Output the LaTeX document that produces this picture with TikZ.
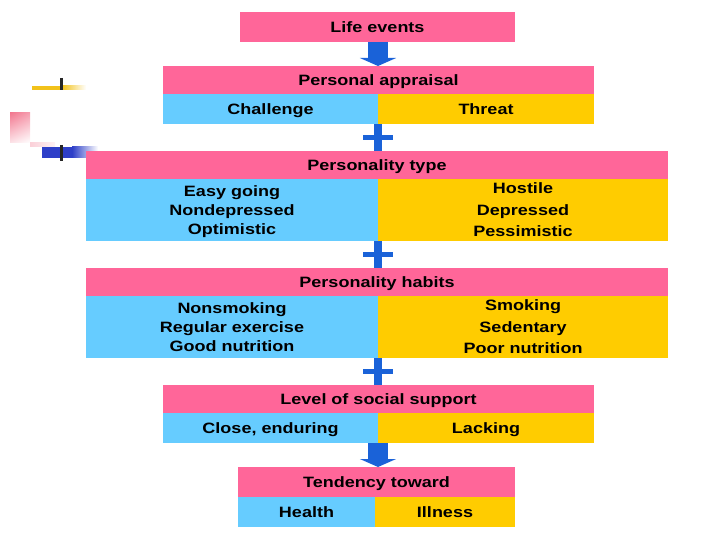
\documentclass[tikz,border=0pt]{standalone}
\usepackage{fontspec}
\setmainfont[FakeStretch=1.2]{Liberation Sans}
\usetikzlibrary{arrows.meta,shadings}
\definecolor{pinkc}{HTML}{FF6699}
\definecolor{bluec}{HTML}{66CCFF}
\definecolor{yellowc}{HTML}{FFCC00}
\definecolor{arrowc}{HTML}{1A62D8}
\definecolor{decoyel}{HTML}{F2C21A}
\definecolor{decoblue}{HTML}{2E3FC8}
\definecolor{decopink}{HTML}{F27890}
\begin{document}
\begin{tikzpicture}[x=1pt,y=-1pt,
  box/.style={draw=none,inner sep=0pt,outer sep=0pt,anchor=north west,align=center,text depth=0pt,font=\fontsize{15}{19}\selectfont\bfseries},
  pbox/.style={box,fill=pinkc},
  bbox/.style={box,fill=bluec},
  ybox/.style={box,fill=yellowc},
  wide/.style={font=\fontsize{15}{21.5}\selectfont\bfseries},
  bigarrow/.style={draw=arrowc,line width=20pt,-{Triangle[width=36pt,length=8pt]}},
  plusv/.style={draw=arrowc,line width=8pt},
  plush/.style={draw=arrowc,line width=5pt},
  tick/.style={draw=black!85,line width=3pt}]
\useasboundingbox (0,0) rectangle (720,540);
% decoration
\shade[left color=decoyel,right color=white] (62,86) rectangle (86,90);
\fill[decoyel] (32,86) rectangle (62,90);
\shade[upper left=decopink,lower left=decopink!20,upper right=decopink!70,lower right=white] (10,113) rectangle (30,143);
\shade[left color=decopink!35,right color=decopink!10] (30,143) rectangle (55,147);
\fill[decoblue] (42,147) rectangle (72,158);
\shade[left color=decoblue,right color=white] (72,147) rectangle (98,158);
\draw[tick] (61.5,78) -- (61.5,90);
\draw[tick] (61.5,145) -- (61.5,161);
% boxes
\node[pbox,minimum width=275pt,minimum height=30pt] (life) at (240,12) {Life events};
\node[pbox,minimum width=431pt,minimum height=28pt] (appr) at (163,66) {Personal appraisal};
\node[bbox,minimum width=215pt,minimum height=30pt] (chal) at (163,94) {Challenge};
\node[ybox,minimum width=216pt,minimum height=30pt] (threat) at (378,94) {Threat};
\node[pbox,minimum width=582pt,minimum height=28pt] (ptype) at (86,151) {Personality type};
\node[bbox,minimum width=292pt,minimum height=62pt] (easy) at (86,179) {Easy going\\Nondepressed\\Optimistic};
\node[ybox,wide,minimum width=290pt,minimum height=62pt] (host) at (378,179) {Hostile\\Depressed\\Pessimistic};
\node[pbox,minimum width=582pt,minimum height=28pt] (phab) at (86,268) {Personality habits};
\node[bbox,minimum width=292pt,minimum height=62pt] (nons) at (86,296) {Nonsmoking\\Regular exercise\\Good nutrition};
\node[ybox,wide,minimum width=290pt,minimum height=62pt] (smok) at (378,296) {Smoking\\Sedentary\\Poor nutrition};
\node[pbox,minimum width=431pt,minimum height=28pt] (soc) at (163,385) {Level of social support};
\node[bbox,minimum width=215pt,minimum height=30pt] (close) at (163,413) {Close, enduring};
\node[ybox,minimum width=216pt,minimum height=30pt] (lack) at (378,413) {Lacking};
\node[pbox,minimum width=277pt,minimum height=30pt] (tend) at (238,467) {Tendency toward};
\node[bbox,minimum width=137pt,minimum height=30pt] (health) at (238,497) {Health};
\node[ybox,minimum width=140pt,minimum height=30pt] (ill) at (375,497) {Illness};
% connectors
\draw[bigarrow] (life.south -| chal.south east) -- (appr.north -| chal.south east);
\draw[bigarrow] (close.south east) -- (tend.north -| close.south east);
\draw[plusv] (chal.south east) -- (ptype.north -| chal.south east);
\draw[plush] ([xshift=-15pt,yshift=-13.5pt]chal.south east) -- ([xshift=15pt,yshift=-13.5pt]chal.south east);
\draw[plusv] (easy.south east) -- (phab.north -| easy.south east);
\draw[plush] ([xshift=-15pt,yshift=-13.5pt]easy.south east) -- ([xshift=15pt,yshift=-13.5pt]easy.south east);
\draw[plusv] (nons.south east) -- (soc.north -| nons.south east);
\draw[plush] ([xshift=-15pt,yshift=-13.5pt]nons.south east) -- ([xshift=15pt,yshift=-13.5pt]nons.south east);
\end{tikzpicture}
\end{document}
